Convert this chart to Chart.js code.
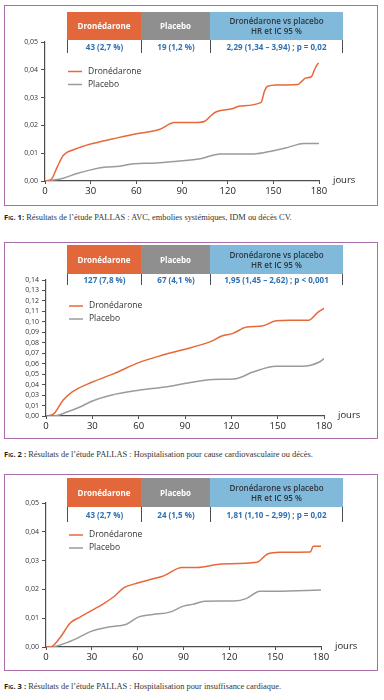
<!DOCTYPE html>
<html>
<head>
<meta charset="utf-8">
<script src="https://cdn.jsdelivr.net/npm/chart.js@4.4.1/dist/chart.umd.min.js"></script>
<style>
  html, body { margin:0; padding:0; background:#fff; }
  body { width:384px; height:700px; position:relative; overflow:hidden; font-family:'Open Sans', sans-serif; }
  .panel { position:absolute; left:4px; width:374px; border:1.5px solid #a86ca8; box-sizing:border-box; }
  canvas.ch { position:absolute; left:0; z-index:1; }
  .tbl { position:absolute; left:67px; width:276px; z-index:2; }
  .tbl .row { display:flex; }
  .tbl .h { display:flex; align-items:center; justify-content:center; text-align:center; font-size:8px; line-height:10px; box-sizing:border-box; }
  .tbl .c1 { width:74px; } .tbl .c2 { width:69px; } .tbl .c3 { width:133px; }
  .tbl .h.c1 { background:#e2673b; color:#fff; font-weight:700; }
  .tbl .h.c2 { background:#8f8f8f; color:#fff; font-weight:700; }
  .tbl .h.c3 { background:#80b9d9; color:#2c3440; font-weight:600; }
  .tbl .v { display:flex; align-items:center; justify-content:center; font-size:8px; font-weight:700; color:#2f70b0; box-sizing:border-box; border-left:1.2px solid #4a4f57; }
  .tbl .v.c3 { border-right:1.2px solid #4a4f57; }
  .cap { position:absolute; left:4px; font-family:'Liberation Serif', serif; font-size:8.4px; color:#333; white-space:nowrap; }
  .cap b { font-family:'Open Sans', sans-serif; font-weight:700; font-size:7.6px; font-variant:small-caps; color:#222; }
</style>
</head>
<body>
<div class="panel" style="top:5px;height:201px;"></div>
<div class="panel" style="top:242px;height:197px;"></div>
<div class="panel" style="top:474px;height:197px;"></div>

<div class="tbl" id="t1" style="top:12px;"></div>
<div class="tbl" id="t2" style="top:245px;"></div>
<div class="tbl" id="t3" style="top:478px;"></div>

<canvas class="ch" id="c1"></canvas>
<canvas class="ch" id="c2"></canvas>
<canvas class="ch" id="c3"></canvas>

<div class="cap" style="top:212px;"><b>Fig. 1:</b> Résultats de l’étude PALLAS : AVC, embolies systémiques, IDM ou décès CV.</div>
<div class="cap" style="top:449px;"><b>Fig. 2 :</b> Résultats de l’étude PALLAS : Hospitalisation pour cause cardiovasculaire ou décès.</div>
<div class="cap" style="top:681px;"><b>Fig. 3 :</b> Résultats de l’étude PALLAS : Hospitalisation pour insuffisance cardiaque.</div>

<script>
// ---------- DATA ----------
const seriesNames = ['Dronédarone', 'Placebo'];
const tableHeaders = ['Dronédarone', 'Placebo', 'Dronédarone vs placebo<br>HR et IC 95 %'];
const fig1Table = ['43 (2,7 %)', '19 (1,2 %)', '2,29 (1,34 – 3,94) ; p = 0,02'];
const fig2Table = ['127 (7,8 %)', '67 (4,1 %)', '1,95 (1,45 – 2,62) ; p < 0,001'];
const fig3Table = ['43 (2,7 %)', '24 (1,5 %)', '1,81 (1,10 – 2,99) ; p = 0,02'];
const xTickDays = [0, 30, 60, 90, 120, 150, 180];
const xUnit = 'jours';

// Fig 1
const fig1DroneDays = [0, 4, 8, 12, 20, 30, 45, 60, 75, 85, 98, 105, 110, 113, 123, 128, 142, 144, 146, 152, 166, 169, 171, 175, 177, 179, 180];
const fig1DroneVals = [0, 0.0005, 0.005, 0.0092, 0.0115, 0.0133, 0.0152, 0.017, 0.0185, 0.021, 0.021, 0.0215, 0.024, 0.025, 0.026, 0.027, 0.0283, 0.032, 0.034, 0.0345, 0.0347, 0.036, 0.037, 0.0375, 0.04, 0.042, 0.0424];
const fig1PlaceboDays = [0, 5, 12, 21, 30, 40, 49, 58, 73, 87, 102, 115, 137, 150, 159, 170, 180];
const fig1PlaceboVals = [0, 0.0003, 0.001, 0.0027, 0.004, 0.005, 0.0053, 0.0062, 0.0065, 0.0071, 0.008, 0.0097, 0.0097, 0.0109, 0.012, 0.0135, 0.0135];
const fig1YTicks = ['0,00', '0,01', '0,02', '0,03', '0,04', '0,05'];

// Fig 2 (values as read against the printed tick labels; note the printed axis skips 0,02)
const fig2DroneDays = [0, 5, 11, 17, 30, 44, 60, 75, 88, 108, 113, 121, 130, 140, 149, 158, 170, 176, 180];
const fig2DroneVals = [0, 0.002, 0.02, 0.033, 0.0425, 0.0505, 0.061, 0.068, 0.073, 0.082, 0.086, 0.089, 0.095, 0.096, 0.101, 0.1015, 0.1015, 0.109, 0.113];
const fig2PlaceboDays = [0, 5, 14, 22, 30, 42, 60, 77, 92, 108, 123, 134, 149, 166, 177, 180];
const fig2PlaceboVals = [0, 0, 0.004, 0.0086, 0.0186, 0.0296, 0.0346, 0.0377, 0.0416, 0.0448, 0.0457, 0.052, 0.0575, 0.0575, 0.0616, 0.0649];
const fig2YTicks = ['0,00', '0,01', '0,03', '0,04', '0,05', '0,06', '0,07', '0,08', '0,09', '0,10', '0,11', '0,12', '0,13', '0,14'];

// Fig 3
const fig3DroneDays = [0, 3, 9, 16, 22, 30, 37, 45, 51, 60, 69, 77, 89, 99, 115, 138, 145, 153, 173, 175, 180];
const fig3DroneVals = [0, 0, 0.0031, 0.0084, 0.0103, 0.0127, 0.0148, 0.0177, 0.0206, 0.0222, 0.0235, 0.0247, 0.0276, 0.0276, 0.0288, 0.0294, 0.0323, 0.0329, 0.033, 0.035, 0.035];
const fig3PlaceboDays = [0, 3, 16, 30, 42, 53, 60, 70, 81, 90, 96, 104, 123, 131, 140, 151, 180];
const fig3PlaceboVals = [0, 0, 0.002, 0.0055, 0.007, 0.008, 0.0103, 0.0113, 0.0121, 0.0142, 0.0148, 0.0159, 0.016, 0.0168, 0.0194, 0.0194, 0.0198];

// ---------- STYLE ----------
const ORANGE = '#e8683a';
const GREY = '#9b9b9b';
const AXIS = '#4d4d4d';
Chart.defaults.font.family = "'Open Sans', sans-serif";
Chart.defaults.color = '#333';

function buildTable(id, values) {
  const el = document.getElementById(id);
  const hdrH = id === 't1' ? 28 : 29;
  const valH = id === 't1' ? 13 : (id === 't2' ? 11 : 15);
  const cls = ['c1', 'c2', 'c3'];
  el.innerHTML =
    '<div class="row">' + tableHeaders.map((t, i) => `<div class="h ${cls[i]}" style="height:${hdrH}px">${t}</div>`).join('') + '</div>' +
    '<div class="row">' + values.map((t, i) => `<div class="v ${cls[i]}" style="height:${valH}px">${t}</div>`).join('') + '</div>';
}
buildTable('t1', fig1Table);
buildTable('t2', fig2Table);
buildTable('t3', fig3Table);

const pts = (days, vals, map) => days.map((d, i) => ({ x: d, y: map ? map(vals[i]) : vals[i] }));

// printed fig-2 axis: 0,00 and 0,01 then 0,03 ... (0,02 absent) -> position on the evenly spaced tick grid
function fig2Pos(v) {
  if (v <= 0.01) return v;
  if (v <= 0.03) return 0.01 + (v - 0.01) / 2;
  return v - 0.01;
}

const overlay = {
  id: 'overlay',
  afterDraw(chart) {
    const o = chart.options.plugins.overlay;
    const ctx = chart.ctx, a = chart.chartArea;
    ctx.save();
    chart.data.datasets.forEach((ds, i) => {
      const y = a.top + o.legendTop + i * 13;
      ctx.strokeStyle = ds.borderColor; ctx.lineWidth = 1.5;
      ctx.beginPath(); ctx.moveTo(a.left + 23, y); ctx.lineTo(a.left + 37, y); ctx.stroke();
      ctx.fillStyle = '#333'; ctx.font = "8.5px 'Open Sans', sans-serif";
      ctx.textBaseline = 'middle'; ctx.textAlign = 'left';
      ctx.fillText(ds.label, a.left + 43, y);
    });
    ctx.font = "9.5px 'Open Sans', sans-serif"; ctx.fillStyle = '#222';
    ctx.fillText(xUnit, a.right + 14, a.bottom - 1);
    ctx.restore();
  }
};

function makeChart(id, area, yMax, yTicks, drone, placebo, legendTop) {
  const cv = document.getElementById(id);
  const padTop = 12, xH = 22;
  const top = area.top - padTop;
  const h = area.bottom - area.top + padTop + xH;
  cv.width = 384; cv.height = h;
  cv.style.top = top + 'px'; cv.style.width = '384px'; cv.style.height = h + 'px';
  new Chart(cv, {
    type: 'line',
    data: {
      datasets: [
        { label: seriesNames[0], data: drone, borderColor: ORANGE, borderWidth: 1.5, pointRadius: 0, tension: 0.4, cubicInterpolationMode: 'monotone', fill: false },
        { label: seriesNames[1], data: placebo, borderColor: GREY, borderWidth: 1.5, pointRadius: 0, tension: 0.4, cubicInterpolationMode: 'monotone', fill: false }
      ]
    },
    options: {
      responsive: false, animation: false, devicePixelRatio: 1,
      layout: { padding: { top: padTop, left: 0, right: 384 - area.right, bottom: 0 } },
      plugins: { legend: { display: false }, tooltip: { enabled: false }, overlay: { legendTop } },
      scales: {
        x: {
          type: 'linear', min: 0, max: 180,
          afterBuildTicks: s => { s.ticks = xTickDays.map(v => ({ value: v })); },
          afterFit: s => { s.height = xH; },
          grid: { display: true, drawOnChartArea: false, drawTicks: true, tickLength: 3, color: AXIS, lineWidth: 1 },
          border: { display: true, color: AXIS, width: 1.2 },
          ticks: { font: { size: 9.5 }, color: '#222', padding: 2, maxRotation: 0, autoSkip: false }
        },
        y: {
          type: 'linear', min: 0, max: yMax,
          afterBuildTicks: s => { s.ticks = yTicks.map((t, i) => ({ value: i / 100 })); },
          afterFit: s => { s.width = area.left; },
          grid: { display: true, drawOnChartArea: false, drawTicks: true, tickLength: 4, color: AXIS, lineWidth: 1 },
          border: { display: true, color: AXIS, width: 1.2 },
          ticks: { font: { size: 7 }, color: '#333', padding: 3, autoSkip: false, callback: (v, i) => yTicks[i] }
        }
      }
    },
    plugins: [overlay]
  });
}

makeChart('c1', { left: 45, right: 319, top: 41.5, bottom: 181 }, 0.05, fig1YTicks,
  pts(fig1DroneDays, fig1DroneVals), pts(fig1PlaceboDays, fig1PlaceboVals), 29.5);
makeChart('c2', { left: 46, right: 324, top: 280, bottom: 416 }, 0.13, fig2YTicks,
  pts(fig2DroneDays, fig2DroneVals, fig2Pos), pts(fig2PlaceboDays, fig2PlaceboVals, fig2Pos), 26);
makeChart('c3', { left: 46, right: 321, top: 503, bottom: 647 }, 0.05, fig1YTicks,
  pts(fig3DroneDays, fig3DroneVals), pts(fig3PlaceboDays, fig3PlaceboVals), 32);
</script>
</body>
</html>
